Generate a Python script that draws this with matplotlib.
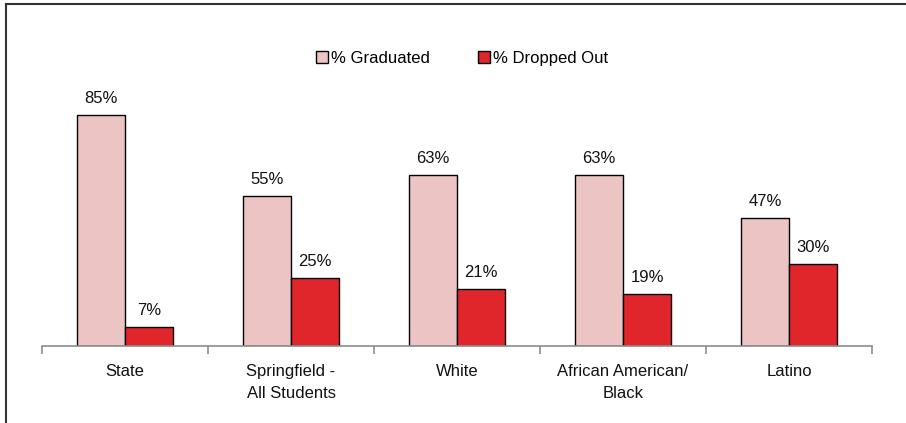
import numpy as np
import matplotlib.pyplot as plt
from matplotlib.lines import Line2D

plt.rcParams['font.family'] = ['Liberation Sans', 'DejaVu Sans']

categories = ['State', 'Springfield -\nAll Students', 'White',
              'African American/\nBlack', 'Latino']
graduated = [85, 55, 63, 63, 47]
dropped = [7, 25, 21, 19, 30]
series_names = ['% Graduated', '% Dropped Out']
pink = '#ecc4c4'
red = '#e0262a'

fig = plt.figure(figsize=(9.06, 4.23), dpi=100)
ax = fig.add_axes([0.0464, 0.182, 0.916, 0.643])

x = np.arange(len(categories))
w = 0.29
b1 = ax.bar(x - w / 2, graduated, w, color=pink, edgecolor='black',
            linewidth=1.0, label=series_names[0])
b2 = ax.bar(x + w / 2, dropped, w, color=red, edgecolor='black',
            linewidth=1.0, label=series_names[1])

for bars, vals in ((b1, graduated), (b2, dropped)):
    for r, v in zip(bars, vals):
        ax.text(r.get_x() + r.get_width() / 2, v + 3.3, '%d%%' % v,
                ha='center', va='bottom', fontsize=12, color='#111111')

ax.set_xlim(-0.5, len(categories) - 0.5)
ax.set_ylim(0, 100)
for s in ('top', 'right', 'left'):
    ax.spines[s].set_visible(False)
ax.spines['bottom'].set_color('#8c8c8c')
ax.spines['bottom'].set_linewidth(1.2)
ax.set_yticks([])
ax.set_xticks(np.arange(len(categories) + 1) - 0.5, minor=False)
ax.set_xticklabels([])
ax.tick_params(axis='x', which='major', length=6, color='#8c8c8c', width=1.2)
ax.set_xticks(x, minor=True)
ax.set_xticklabels(categories, minor=True, fontsize=12, color='#111111',
                   linespacing=1.55)
ax.tick_params(axis='x', which='minor', length=0, pad=13)

fig.legend(handles=[b1, b2], labels=series_names, loc='center',
           bbox_to_anchor=(0.51, 0.862), ncol=2, frameon=False,
           fontsize=12, handlelength=0.7, handleheight=0.7,
           handletextpad=0.2, columnspacing=2.9)

# frame lines on top and left of the picture
fig.add_artist(Line2D([5.5 / 906, 1], [1 - 4.5 / 423, 1 - 4.5 / 423],
                      color='#333333', linewidth=1.5, transform=fig.transFigure))
fig.add_artist(Line2D([5.5 / 906, 5.5 / 906], [0, 1 - 4.5 / 423],
                      color='#333333', linewidth=1.5, transform=fig.transFigure))

fig.savefig('out.png', dpi=100)
